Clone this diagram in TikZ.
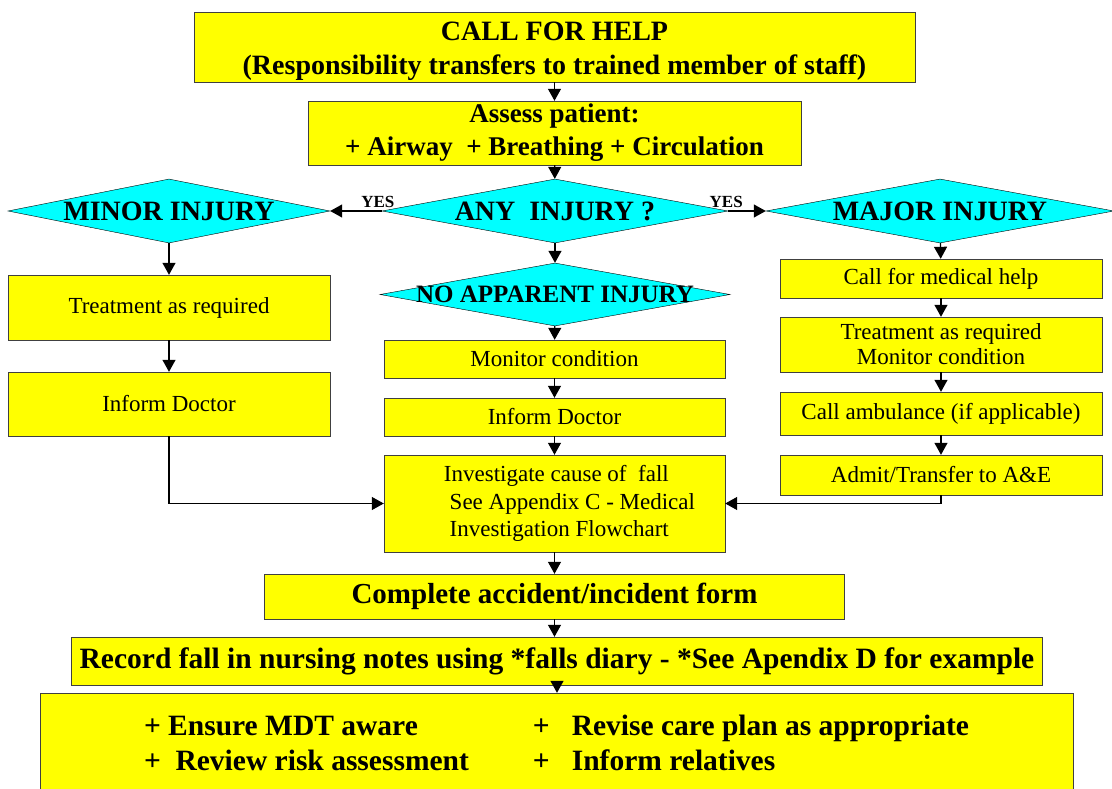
\documentclass[tikz,border=0pt]{standalone}
\usepackage{fontspec}
\setmainfont{Liberation Serif}
\usetikzlibrary{shapes.geometric,arrows.meta}
\definecolor{boxyellow}{RGB}{255,255,0}
\definecolor{diacyan}{RGB}{0,255,255}
\newcommand{\fbig}{\fontsize{28}{34}\selectfont\bfseries}
\newcommand{\fdia}{\fontsize{28}{30}\selectfont\bfseries}
\newcommand{\fnorm}{\fontsize{23}{25}\selectfont}
\newcommand{\fyes}{\fontsize{17}{20}\selectfont\bfseries}
\tikzset{
    every node/.style={inner sep=0pt},
    box/.style={rectangle, draw=black!75, fill=boxyellow, align=center, font=\fnorm},
    choice/.style={diamond, draw, fill=diacyan},
    arr/.style={line width=1.2pt, -{Triangle[length=12pt,width=13pt]}}
}
\tikzset{every label/.style={font=\fdia, inner sep=0pt}}
\begin{document}
\begin{tikzpicture}[x=1pt, y=-1pt]
        \useasboundingbox (0,0) rectangle (1112,789);
        \clip (0,0) rectangle (1112,789);
        \node (help) [box, font=\fbig, minimum width=721, minimum height=70] at (554.5,47) {\rule{0pt}{28pt}CALL FOR HELP\\(Responsibility transfers to trained member of staff)};
        \node (assess) [box, font=\fontsize{27}{33}\selectfont\bfseries, minimum width=493, minimum height=64] at (554.5,133) {Assess patient:\\+ Airway~ + Breathing + Circulation};
        \node (any) [choice, minimum width=346, minimum height=64, label=center:{ANY~ INJURY ?}] at (555,211) {};
        \node (minor) [choice, minimum width=322, minimum height=64, label=center:{MINOR INJURY}] at (169,211) {};
        \node (major) [choice, minimum width=348, minimum height=64, label=center:{MAJOR INJURY}] at (940,211) {};
        \node (none) [choice, minimum width=350, minimum height=63, label={[font=\fontsize{25}{28}\selectfont\bfseries]center:{NO APPARENT INJURY}}] at (555,294.5) {};
        \node (treatA) [box, minimum width=322, minimum height=65] at (169,307.5) {Treatment as required};
        \node (informA) [box, minimum width=322, minimum height=64] at (169,404) {Inform Doctor};
        \node (monitor) [box, minimum width=341, minimum height=38] at (554.5,359) {Monitor condition};
        \node (informB) [box, minimum width=341, minimum height=38] at (554.5,417) {Inform Doctor};
        \node (invest) [box, align=left, font=\fontsize{23}{27.5}\selectfont, minimum width=341, minimum height=97] at (554.5,503.5) {\hspace*{30pt}Investigate cause of~ fall\\\hspace*{30pt} See Appendix C - Medical\\\hspace*{30pt} Investigation Flowchart};
        \node (callmed) [box, minimum width=322, minimum height=39] at (941,278.5) {Call for medical help};
        \node (treatB) [box, minimum width=322, minimum height=55] at (941,344.5) {Treatment as required\\Monitor condition};
        \node (ambul) [box, minimum width=322, minimum height=43] at (941,413.5) {Call ambulance (if applicable)};
        \node (admit) [box, minimum width=322, minimum height=40] at (941,475) {Admit/Transfer to A\&E};
        \node (complete) [box, font=\fontsize{29}{34}\selectfont\bfseries, minimum width=580, minimum height=45] at (554.5,596.5) {Complete accident/incident form};
        \node (record) [box, font=\fontsize{29.5}{34}\selectfont\bfseries, minimum width=971, minimum height=48] at (557,661) {Record fall in nursing notes using *falls diary - *See Apendix D for example};
        \node (final) [box, font=\fontsize{29.5}{35}\selectfont\bfseries, minimum width=1033, minimum height=106] at (556.5,746) {\begin{tabular}{@{}l@{\hspace{64pt}}l@{}}+ Ensure MDT aware & +~~ Revise care plan as appropriate\\+~ Review risk assessment & +~~ Inform relatives\end{tabular}};
        \draw [arr] (help) -- (assess);
        \draw [arr] (assess) -- (any);
        \draw [arr] (any) -- node (yesL) [pos=0, anchor=south, xshift=-4pt, yshift=3pt, font=\fyes] {YES} (minor);
        \draw [arr] (any) -- node (yesR) [pos=0, anchor=south, xshift=-2pt, yshift=3pt, font=\fyes] {YES} (major);
        \draw [arr] (any) -- (none);
        \draw [arr] (minor) -- (treatA);
        \draw [arr] (treatA) -- (informA);
        \draw [arr] (none) -- (monitor);
        \draw [arr] (monitor) -- (informB);
        \draw [arr] (informB) -- (invest);
        \draw [arr] (major) -- (callmed);
        \draw [arr] (callmed) -- (treatB);
        \draw [arr] (treatB) -- (ambul);
        \draw [arr] (ambul) -- (admit);
        \draw [arr] (informA) |- (invest);
        \draw [arr] (admit) |- (invest);
        \draw [arr] (invest) -- (complete);
        \draw [arr] (complete) -- (complete |- record.north);
        \draw [arr] (record) -- (record |- final.north);
\end{tikzpicture}
\end{document}
